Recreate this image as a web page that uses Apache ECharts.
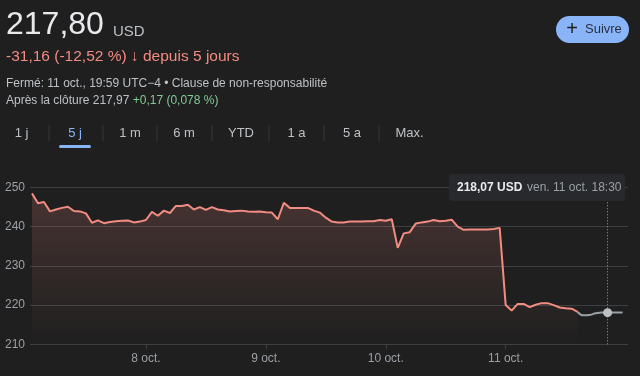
<!DOCTYPE html>
<html>
<head>
<meta charset="utf-8">
<script src="https://cdn.jsdelivr.net/npm/echarts@6/dist/echarts.min.js"></script>
<style>
  html, body { margin: 0; padding: 0; background: #1f1f1f; }
  #chart { width: 640px; height: 376px; }
</style>
</head>
<body>
<div id="chart"></div>
<script>
// prix toutes les ~30 min, une liste par séance
const oct7 = [248.5, 246.0, 246.3, 243.9, 244.4, 244.8, 245.1, 244.0, 243.9, 243.4,
  241.0, 241.6, 240.9, 241.2, 241.4, 241.5, 241.6, 241.1, 241.3]
const oct8 = [241.7, 243.8, 242.8, 244.1, 243.5, 245.3, 245.3, 245.6, 244.4, 245.0,
  244.3, 245.0, 244.4, 244.2, 243.9, 244.0, 244.1, 243.9, 243.8, 243.9]
const oct9 = [243.7, 243.6, 241.9, 246.1, 244.8, 244.8, 244.8, 244.8, 244.1, 243.6,
  242.3, 241.3, 241.1, 241.1, 241.3, 241.3, 241.3, 241.4, 241.4, 241.7]
const oct10 = [241.5, 241.9, 234.6, 238.3, 238.6, 240.8, 241.1, 241.3, 241.7, 241.4,
  241.5, 241.8, 240.0, 239.2, 239.3, 239.3, 239.3, 239.3, 239.4, 239.7]
const oct11 = [220.0, 218.6, 220.3, 220.3, 219.5, 220.1, 220.5, 220.5, 220.0, 219.4,
  219.2, 219.1, 218.3]
const afterHours = [218.3, 217.4, 217.5, 217.9, 218.1, 218.07, 218.1, 218.1, 218.1]

const dayStarts = [1, 20, 40, 60, 80]
const dayLabels = ['7 oct.', '8 oct.', '9 oct.', '10 oct.', '11 oct.']
const afterStart = 92
const hoverIndex = 5
const hoverTime = 'ven. 11 oct. 18:30'
const yTicks = [210, 220, 230, 240, 250]
const tabs = ['1 j', '5 j', '1 m', '6 m', 'YTD', '1 a', '5 a', 'Max.']

const lastPrice = '217,80'
const change = '-31,16 (-12,52 %) \u2193 depuis 5 jours'
const closedInfo = 'Fermé: 11 oct., 19:59 UTC\u22124 \u2022 Clause de non-responsabilité'
const afterPrice = 'Après la clôture 217,97 '
const afterChange = '+0,17 (0,078 %)'

const session = []
;[oct7, oct8, oct9, oct10, oct11].forEach((day, d) => {
  day.forEach((v, i) => session.push([dayStarts[d] + i, v]))
})
// le dernier point hors séance tombe entre deux pas
const after = afterHours.map((v, i) => [afterStart + Math.min(i, 7) + (i === 8 ? 0.5 : 0), v])
const hoverPt = after[hoverIndex]

const FONT = '"Liberation Sans", Arial, sans-serif'
const fmt = (v, n) => v.toFixed(n).replace('.', ',')

// onglets
const tabX = [21.5, 75, 130, 184, 241, 296.5, 352, 409.5]
const sepX = [49, 103, 157, 212, 269, 324, 379]
const tabGraphics = tabs.map((t, i) => ({
  type: 'text', x: tabX[i], y: 133,
  style: { text: t, font: '13px ' + FONT, fill: i === 1 ? '#8ab4f8' : '#bdc1c6', align: 'center', verticalAlign: 'middle' }
}))
const sepGraphics = sepX.map(x => ({
  type: 'line', shape: { x1: x, y1: 125, x2: x, y2: 141 }, style: { stroke: '#34363a', lineWidth: 1 }
}))

const chart = echarts.init(document.getElementById('chart'))
chart.setOption({
  backgroundColor: '#1f1f1f',
  animation: false,
  grid: { left: 30, right: 12, top: 187.5, bottom: 31.7 },
  xAxis: {
    type: 'value',
    min: 0.67,
    max: 100.4,
    splitLine: { show: false },
    axisLine: { show: false },
    axisTick: { show: true, customValues: dayStarts.slice(1), length: 5, lineStyle: { color: '#3c4043' } },
    axisLabel: {
      customValues: dayStarts.slice(1),
      formatter: v => dayLabels[dayStarts.indexOf(v)] || '',
      color: '#9aa0a6', fontSize: 12, fontFamily: FONT, margin: 8
    }
  },
  yAxis: {
    type: 'value',
    min: yTicks[0],
    max: yTicks[yTicks.length - 1],
    interval: 10,
    axisLine: { show: false },
    axisTick: { show: false },
    splitLine: { lineStyle: { color: '#3c4043', width: 1 } },
    axisLabel: { color: '#9aa0a6', fontSize: 12, fontFamily: FONT, align: 'left', margin: 25 }
  },
  series: [
    {
      type: 'line',
      data: session,
      showSymbol: false,
      lineStyle: { color: '#f28b82', width: 2 },
      itemStyle: { color: '#f28b82' },
      areaStyle: {
        color: new echarts.graphic.LinearGradient(0, 0, 0, 1, [
          { offset: 0, color: 'rgba(242,139,130,0.27)' },
          { offset: 1, color: 'rgba(242,139,130,0.0)' }
        ])
      }
    },
    {
      type: 'line',
      data: after,
      smooth: true,
      showSymbol: false,
      lineStyle: { color: '#9aa0a6', width: 2 },
      itemStyle: { color: '#9aa0a6' },
      markLine: {
        silent: true,
        symbol: 'none',
        label: { show: false },
        lineStyle: { color: '#9aa0a6', type: [1, 2], width: 1 },
        data: [{ xAxis: hoverPt[0] }]
      },
      markPoint: {
        silent: true,
        symbol: 'circle',
        symbolSize: 9,
        label: { show: false },
        itemStyle: { color: '#bdc1c6' },
        data: [{ coord: hoverPt }]
      }
    }
  ],
  graphic: [
    { type: 'text', x: 6, y: 25, style: { text: lastPrice, font: '32px ' + FONT, fill: '#e8eaed', verticalAlign: 'middle' } },
    { type: 'text', x: 113, y: 32, style: { text: 'USD', font: '15px ' + FONT, fill: '#bdc1c6', verticalAlign: 'middle' } },
    { type: 'text', x: 6, y: 57, style: { text: change, font: '15.5px ' + FONT, fill: '#f28b82', verticalAlign: 'middle' } },
    { type: 'text', x: 6, y: 84, style: { text: closedInfo, font: '12px ' + FONT, fill: '#bdc1c6', verticalAlign: 'middle' } },
    {
      type: 'text', x: 6, y: 101,
      style: {
        text: '{a|' + afterPrice + '}{g|' + afterChange + '}',
        verticalAlign: 'middle',
        rich: {
          a: { font: '12px ' + FONT, fill: '#bdc1c6', color: '#bdc1c6' },
          g: { font: '12px ' + FONT, fill: '#81c995', color: '#81c995' }
        }
      }
    },
    { type: 'rect', shape: { x: 556, y: 16, width: 73, height: 27, r: 13.5 }, style: { fill: '#8ab4f8' } },
    { type: 'text', x: 572, y: 29.5, style: { text: '+', font: '20px ' + FONT, fill: '#202124', align: 'center', verticalAlign: 'middle' } },
    { type: 'text', x: 585, y: 29.5, style: { text: 'Suivre', font: '13px ' + FONT, fill: '#2a3040', verticalAlign: 'middle' } },
    ...tabGraphics,
    ...sepGraphics,
    { type: 'rect', shape: { x: 59, y: 145, width: 32, height: 3, r: 1.5 }, style: { fill: '#8ab4f8' } },
    { type: 'rect', z: 100, shape: { x: 449, y: 174, width: 176, height: 27, r: 3 }, style: { fill: '#28292c' } },
    { type: 'text', z: 101, x: 457, y: 187.5, style: { text: fmt(hoverPt[1], 2) + ' USD', font: 'bold 12px ' + FONT, fill: '#e8eaed', verticalAlign: 'middle' } },
    { type: 'text', z: 101, x: 527, y: 187.5, style: { text: hoverTime, font: '12px ' + FONT, fill: '#9aa0a6', verticalAlign: 'middle' } }
  ]
})
</script>
</body>
</html>
